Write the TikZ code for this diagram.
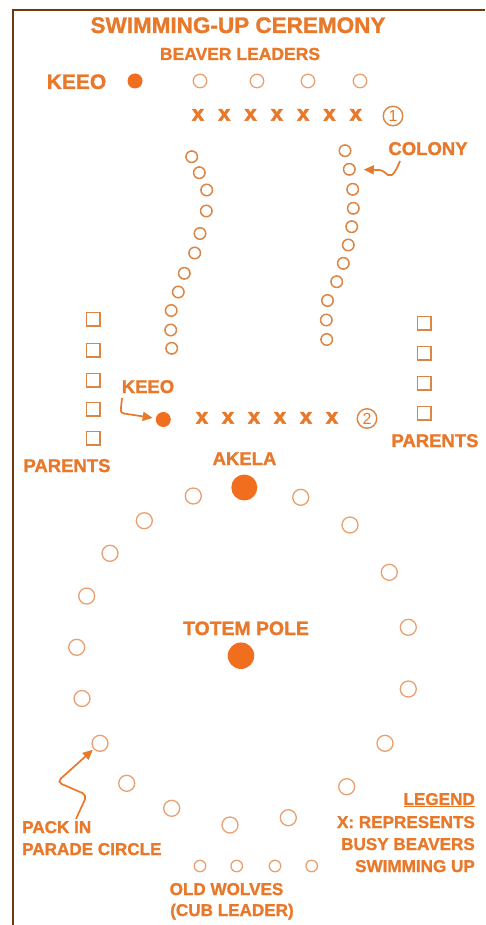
\documentclass[tikz,border=0pt]{standalone}
\usepackage{fontspec}
\setmainfont{Liberation Sans}[BoldFeatures={FakeBold=1.3}]
\newfontfamily\xfont{Liberation Sans}[BoldFeatures={FakeBold=2.6}]
\usetikzlibrary{arrows.meta}
\definecolor{framec}{HTML}{6B3A0E}
\definecolor{txt}{HTML}{E8782A}
\definecolor{dotc}{HTML}{F06E1E}
\definecolor{ringc}{HTML}{E9A070}
\definecolor{ringd}{HTML}{DC8545}
\begin{document}
\begin{tikzpicture}[x=1pt,y=-1pt,
  lbl/.style={font=\bfseries\fontsize{18.5}{18.5}\selectfont, text=txt, inner sep=0pt, anchor=base},
  small/.style={font=\bfseries\fontsize{17.1}{17.1}\selectfont},
  lblw/.style={lbl, small, anchor=base west},
  lble/.style={lbl, small, anchor=base east},
  ring/.style={circle, draw=ringc, line width=1.3pt, inner sep=0pt, minimum size=#1},
  cring/.style={circle, draw=ringd, line width=1.5pt, inner sep=0pt, minimum size=11.5pt},
  fdot/.style={circle, fill=dotc, inner sep=0pt, minimum size=#1},
  sq/.style={rectangle, draw=ringd, line width=1.5pt, inner sep=0pt, minimum size=13.5pt},
  xm/.style={font=\xfont\bfseries\fontsize{22}{22}\selectfont, text=txt, inner sep=0pt, text height=11.4pt, text depth=0pt},
  num/.style={circle, draw=ringd, line width=1.4pt, inner sep=0pt, minimum size=19.5pt, text=txt, font=\fontsize{16}{16}\selectfont},
  arr/.style={draw=txt, line width=1.7pt, -{Triangle[length=10pt,width=9pt]}, color=txt}
]
\useasboundingbox (0,0) rectangle (485,925);
% frame
\draw[framec, line width=2.2pt] (13,925) -- (13,10) -- (485,10);

% title
\node[lbl, font=\bfseries\fontsize{22.5}{22.5}\selectfont] (title) at (238,33) {SWIMMING-UP CEREMONY};
\node[lbl, font=\bfseries\fontsize{17.5}{17.5}\selectfont] (bl) at (240,60) {BEAVER LEADERS};
\node[lbl, font=\bfseries\fontsize{21}{21}\selectfont] (keeo1) at (76.5,89) {KEEO};
\node[fdot=15pt] (k1) at (135,81) {};
\foreach \x [count=\i] in {200,257,308,360} \node[ring=13.5pt] (L\i) at (\x,81) {};

% row 1
\foreach \i in {0,...,6} \node[xm] (xa\i) at (198+26.3*\i,115) {x};
\node[num] (n1) at (393,116) {1};

% colony
\node[lbl] (colony) at (428,155) {COLONY};
\foreach \p [count=\i] in {(191.7,156.7),(199.3,172.7),(206.7,190),(206.3,211),(200,233.5),(194.7,253),(184.3,273.3),(178.3,292),(171.2,310.5),(170.7,330),(171.7,348.3)}
  \node[cring] (cl\i) at \p {};
\foreach \p [count=\i] in {(345,150.7),(349.3,169.3),(352.7,189.3),(353.3,208.3),(351.7,226.7),(348.3,245),(343.3,263.3),(336.7,281.7),(327.5,300.5),(326.3,320),(326.7,339.5)}
  \node[cring] (cr\i) at \p {};
\coordinate (ca) at (400,161);
\draw[arr, shorten >=8pt] (ca) .. controls (397,168) and (393,178) .. (388,175) .. controls (385,173) and (383,170) .. (379,170) -- (cr2);

% parents squares
\foreach \y [count=\i] in {319,350,380,409,438} \node[sq] (pl\i) at (93,\y) {};
\foreach \y [count=\i] in {323,353,383,413} \node[sq] (pr\i) at (424,\y) {};
\node[lbl] (parl) at (67,472) {PARENTS};
\node[lbl] (parr) at (435,447) {PARENTS};

% keeo 2 and row 2
\node[lbl] (keeo2) at (148,393) {KEEO};
\node[fdot=15pt] (k2) at (163.3,419.5) {};
\coordinate (ka) at (122,398);
\draw[arr, rounded corners=3pt, shorten >=3pt] (ka) -- (120.5,413) -- (k2);
\foreach \i in {0,...,5} \node[xm] (xb\i) at (202+26*\i,418) {x};
\node[num] (n2) at (367,418.5) {2};

% akela, totem
\node[lbl] (akela) at (244.5,465) {AKELA};
\node[fdot=26pt] (ak) at (244.3,487.5) {};
\node[lbl, font=\bfseries\fontsize{19.4}{19.4}\selectfont] (totem) at (246,635) {TOTEM POLE};
\node[fdot=26.5pt] (tp) at (241,655.7) {};

% parade circle
\foreach \p [count=\i] in {(193.3,496),(144.3,520.7),(110,553.3),(86.7,596),(76.7,647.3),(82,698.5),(100,743.3),(126.7,783.3),(171.7,808.3),(230,825),(288.3,817.7),(346.7,786.7),(385,743.3),(408.3,689),(408.3,627.3),(389.3,572.3),(350,525),(300.7,497.3)}
  \node[ring=16pt] (pc\i) at \p {};
\coordinate (pa) at (76,819);
\draw[arr, rounded corners=5pt, shorten >=1pt] (pa) -- (87,795) -- (57,782) -- (pc7);
\node[lblw] (pack1) at (22,833) {PACK IN};
\node[lblw] (pack2) at (22,855) {PARADE CIRCLE};

% old wolves
\foreach \x [count=\i] in {200,236.7,275,311.7} \node[ring=11.5pt] (w\i) at (\x,866) {};
\node[lbl, small] (ow1) at (226.5,895) {OLD WOLVES};
\node[lbl, small] (ow2) at (232,916) {(CUB LEADER)};

% legend
\node[lble] (leg) at (475,805) {\underline{LEGEND}};
\node[lble] (leg1) at (475,828) {X: REPRESENTS};
\node[lble] (leg2) at (475,850) {BUSY BEAVERS};
\node[lble] (leg3) at (475,872) {SWIMMING UP};
\end{tikzpicture}
\end{document}
